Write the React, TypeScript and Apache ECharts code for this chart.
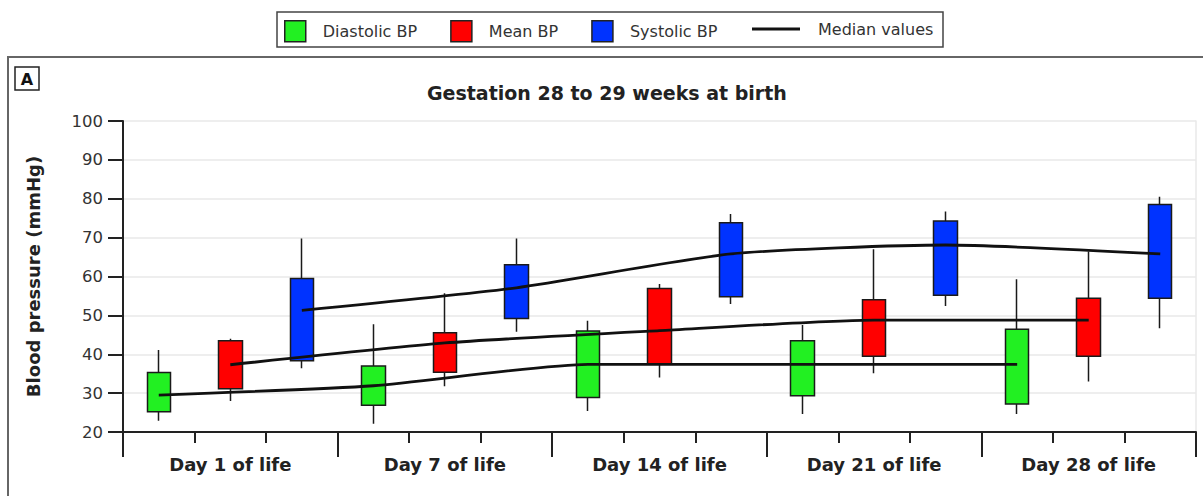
import React, { useEffect, useRef } from "react";
import * as echarts from "echarts";

const days = ["Day 1 of life", "Day 7 of life", "Day 14 of life", "Day 21 of life", "Day 28 of life"];
const slots = ["D1-dia", "D1-mean", "D1-sys", "D7-dia", "D7-mean", "D7-sys", "D14-dia", "D14-mean", "D14-sys", "D21-dia", "D21-mean", "D21-sys", "D28-dia", "D28-mean", "D28-sys"];

// [low whisker, Q1, median, Q3, high whisker] per day
const diastolic = [
  [22.9, 25.2, 29.5, 35.3, 41.1],
  [22.1, 26.9, 31.9, 37.0, 47.7],
  [25.4, 28.9, 37.4, 46.0, 48.6],
  [24.6, 29.3, 37.4, 43.5, 47.5],
  [24.6, 27.2, 37.4, 46.4, 59.3],
];
const meanBP = [
  [28.0, 31.1, 37.3, 43.5, 44.0],
  [31.8, 35.4, 42.9, 45.5, 55.7],
  [34.0, 37.4, 46.1, 56.9, 58.1],
  [35.1, 39.5, 48.8, 54.0, 67.0],
  [33.0, 39.5, 48.8, 54.4, 66.4],
];
const systolic = [
  [36.4, 38.3, 51.3, 59.5, 69.8],
  [45.8, 49.2, 57.1, 63.0, 69.8],
  [52.9, 54.8, 65.8, 73.8, 76.1],
  [52.4, 55.2, 68.1, 74.3, 76.7],
  [46.7, 54.4, 65.8, 78.5, 80.5],
];
const yTicks = [20, 30, 40, 50, 60, 70, 80, 90, 100];

const colors = { dia: "#22f022", mean: "#ff0000", sys: "#0033ff" };
const FONT = "DejaVu Sans, Verdana, sans-serif";

function candleData(arr: number[][], offset: number) {
  const out: any[] = slots.map(() => "-");
  arr.forEach((d, g) => {
    out[g * 3 + offset] = [d[1], d[3], d[0], d[4]];
  });
  return out;
}
function medianData(arr: number[][], offset: number) {
  return arr.map((d, g) => [g * 3 + offset, d[2]]);
}

export default function App() {
  const ref = useRef<HTMLDivElement>(null);
  useEffect(() => {
    const chart = echarts.init(ref.current!, null, { renderer: "svg" });
    const candle = (name: string, color: string, arr: number[][], offset: number) => ({
      type: "candlestick",
      name,
      xAxisIndex: 0,
      yAxisIndex: 0,
      barWidth: 24,
      data: candleData(arr, offset),
      itemStyle: { color, color0: color, borderColor: "#1a1a1a", borderColor0: "#1a1a1a", borderWidth: 1.5 },
      z: 2,
    });
    const med = (arr: number[][], offset: number) => ({
      type: "line",
      name: "Median values",
      xAxisIndex: 0,
      yAxisIndex: 0,
      data: medianData(arr, offset),
      smooth: 0.2,
      showSymbol: false,
      symbol: "none",
      lineStyle: { color: "#111", width: 2.8 },
      itemStyle: { color: "#111" },
      z: 4,
    });
    chart.setOption({
      animation: false,
      textStyle: { fontFamily: FONT },
      title: {
        text: "Gestation 28 to 29 weeks at birth",
        left: 422,
        top: 78,
        textStyle: { fontFamily: FONT, fontSize: 19, fontWeight: "bold", color: "#222" },
      },
      legend: [
        {
          left: 284,
          top: 20,
          padding: 0,
          itemWidth: 21,
          itemHeight: 21,
          itemGap: 33,
          textStyle: { fontFamily: FONT, fontSize: 16, color: "#333", padding: [0, 0, 0, 12] },
          data: [
            { name: "Diastolic BP", icon: "rect", itemStyle: { color: colors.dia, borderColor: "#222", borderWidth: 1.5 } },
            { name: "Mean BP", icon: "rect", itemStyle: { color: colors.mean, borderColor: "#222", borderWidth: 1.5 } },
            { name: "Systolic BP", icon: "rect", itemStyle: { color: colors.sys, borderColor: "#222", borderWidth: 1.5 } },
          ],
        },
        {
          left: 752,
          top: 21,
          padding: 0,
          itemWidth: 48,
          itemHeight: 3,
          textStyle: { fontFamily: FONT, fontSize: 16, color: "#333", padding: [0, 0, 0, 13] },
          data: [{ name: "Median values", icon: "rect", itemStyle: { color: "#111" } }],
        },
      ],
      grid: { left: 123, right: 7, top: 121, bottom: 64 },
      xAxis: [
        {
          type: "category",
          data: slots,
          boundaryGap: true,
          axisLine: { show: true, lineStyle: { color: "#222", width: 2 } },
          axisTick: { show: true, interval: 0, length: 11, lineStyle: { color: "#222", width: 2 } },
          axisLabel: { show: false },
          splitLine: { show: false },
        },
        {
          type: "category",
          data: days,
          position: "bottom",
          boundaryGap: true,
          axisLine: { show: false },
          axisTick: { show: true, interval: 0, length: 25, lineStyle: { color: "#222", width: 2 } },
          axisLabel: { show: true, interval: 0, margin: 23, fontFamily: FONT, fontSize: 18, fontWeight: "bold", color: "#222" },
          splitLine: { show: false },
        },
      ],
      yAxis: [
        {
          type: "value",
          min: yTicks[0],
          max: yTicks[yTicks.length - 1],
          interval: 10,
          name: "Blood pressure (mmHg)",
          nameLocation: "middle",
          nameGap: 81,
          nameTextStyle: { fontFamily: FONT, fontSize: 18, fontWeight: "bold", color: "#222" },
          axisLine: { show: true, lineStyle: { color: "#222", width: 2 } },
          axisTick: { show: true, length: 15, lineStyle: { color: "#222", width: 2 } },
          axisLabel: { margin: 20, fontFamily: FONT, fontSize: 16.5, color: "#333" },
          splitLine: { show: true, lineStyle: { color: "#e8e8e8", width: 1.5 } },
        },
        {
          type: "value",
          position: "right",
          min: yTicks[0],
          max: yTicks[yTicks.length - 1],
          interval: 10,
          axisLine: { show: true, lineStyle: { color: "#e8e8e8", width: 1.5 } },
          axisTick: { show: false },
          axisLabel: { show: false },
          splitLine: { show: false },
        },
      ],
      graphic: [
        { type: "rect", shape: { x: 8, y: 57, width: 1200, height: 460 }, style: { fill: "none", stroke: "#666", lineWidth: 2 }, silent: true },
        { type: "rect", shape: { x: 277, y: 12, width: 666, height: 35 }, style: { fill: "none", stroke: "#444", lineWidth: 1.5 }, silent: true },
        { type: "rect", shape: { x: 15, y: 67, width: 24, height: 23 }, style: { fill: "#fff", stroke: "#222", lineWidth: 1.5 }, silent: true },
        { type: "text", x: 27, y: 79, style: { text: "A", fontFamily: FONT, fontSize: 16, fontWeight: "bold", fill: "#111", align: "center", verticalAlign: "middle" }, silent: true },
      ],
      series: [
        candle("Diastolic BP", colors.dia, diastolic, 0),
        candle("Mean BP", colors.mean, meanBP, 1),
        candle("Systolic BP", colors.sys, systolic, 2),
        med(diastolic, 0),
        med(meanBP, 1),
        med(systolic, 2),
      ],
    });
    return () => chart.dispose();
  }, []);
  return <div ref={ref} style={{ position: "absolute", left: 0, top: 0, width: 1203, height: 496, background: "#fff" }} />;
}
